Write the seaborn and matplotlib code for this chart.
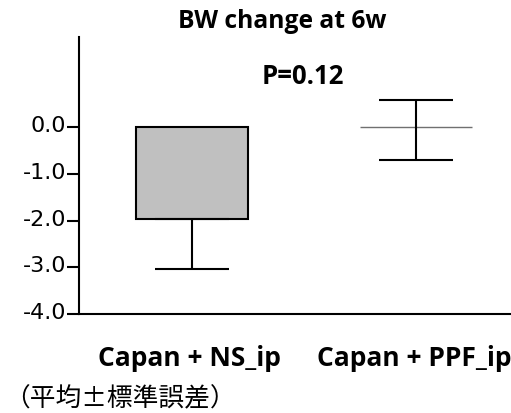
import matplotlib
matplotlib.use("Agg")
import matplotlib.pyplot as plt
import matplotlib.transforms as mtransforms
import seaborn as sns

# data
groups = ["Capan + NS_ip", "Capan + PPF_ip"]
means = [-1.97, 0.0]
err_lower = [1.06, 0.70]
err_upper = [0.0, 0.58]
yticks = [0.0, -1.0, -2.0, -3.0, -4.0]
ytick_labels = ["0.0", "-1.0", "-2.0", "-3.0", "-4.0"]
title = "BW change at 6w"
p_text = "P=0.12"
note = "（平均±標準誤差）"

sns.set_theme(style="white")
plt.rcParams["font.family"] = ["DejaVu Sans"]

fig = plt.figure(figsize=(5.11, 4.13), dpi=100)
W, H = 511, 413
ax = fig.add_axes([79 / W, (H - 314) / H, (W - 79) / W, (314 - 37) / H])

sns.barplot(x=groups, y=means, color="#c0c0c0", width=0.5, errorbar=None,
            saturation=1, ax=ax, zorder=2)
for i, p in enumerate(ax.patches):
    if i == 0:
        p.set_facecolor("#c0c0c0")
        p.set_edgecolor("black")
        p.set_linewidth(1.5)
    else:
        p.set_facecolor("none")
        p.set_edgecolor("#707070")
        p.set_linewidth(1.0)

ax.errorbar([0, 1], means, yerr=[err_lower, err_upper], fmt="none",
            ecolor="black", elinewidth=1.5, capsize=26.5, capthick=1.5, zorder=3)

ax.set_xlim(-0.505, 1.424)
ax.set_ylim(-4.0, 1.94)
ax.set_yticks(yticks)
ax.set_yticklabels(ytick_labels, fontsize=16, color="black")
ax.tick_params(axis="y", direction="out", length=9, width=1.5, color="black",
               pad=0, left=True)
ax.tick_params(axis="x", length=0, pad=22)
ax.set_xticks([0, 1])
ax.set_xticklabels(groups, fontsize=19, fontweight="bold", family="Open Sans",
                   color="black")
lbls = ax.get_xticklabels()
lbls[0].set_transform(lbls[0].get_transform() +
                      mtransforms.ScaledTranslation(-3 / 100, 0, fig.dpi_scale_trans))
lbls[1].set_transform(lbls[1].get_transform() +
                      mtransforms.ScaledTranslation(-2 / 100, 0, fig.dpi_scale_trans))
for lb in ax.get_yticklabels():
    lb.set_transform(lb.get_transform() +
                     mtransforms.ScaledTranslation(0, 3 / 100, fig.dpi_scale_trans))

for s in ["top", "right"]:
    ax.spines[s].set_visible(False)
for s in ["left", "bottom"]:
    ax.spines[s].set_color("black")
    ax.spines[s].set_linewidth(1.5)
ax.set_xlabel("")
ax.set_ylabel("")

fig.text(282 / W, 1 - 21 / H, title, ha="center", va="center", fontsize=17.7,
         fontweight="bold", family="Open Sans", color="black")
fig.text(303 / W, 1 - 76 / H, p_text, ha="center", va="center", fontsize=18.5,
         fontweight="bold", family="Open Sans", color="black")
fig.text(4 / W, 1 - 399 / H, note, ha="left", va="center", fontsize=18.5,
         family=["Noto Sans CJK JP", "DejaVu Sans"], color="black")

fig.savefig("out.png", dpi=100)
